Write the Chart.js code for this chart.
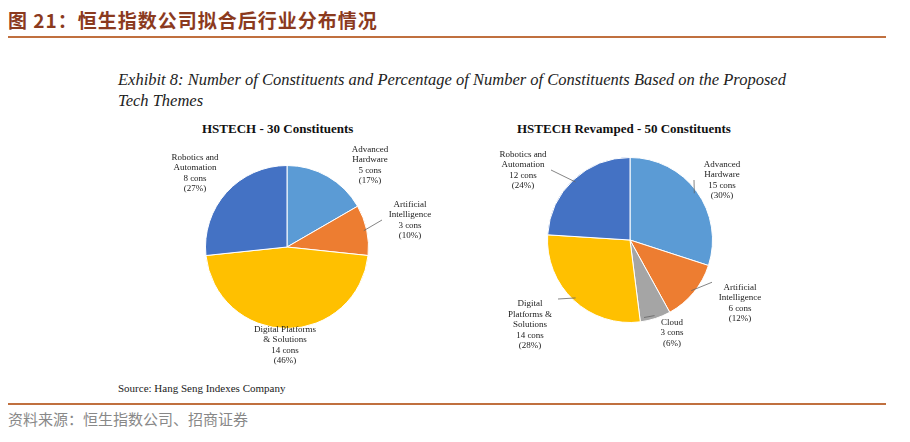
<!DOCTYPE html>
<html><head><meta charset="utf-8">
<script src="https://cdn.jsdelivr.net/npm/chart.js@4"></script>
<style>
body{margin:0;width:910px;height:442px;background:#fff;position:relative;overflow:hidden;font-family:"Liberation Serif",serif}
.abs{position:absolute}
#head{left:8px;top:6px;font:bold 19px "Noto Sans CJK SC";color:#8b3a1e;letter-spacing:1px}
.rule{left:8px;width:878px;height:2px;background:#c0703f}
#ex{left:118px;top:69px;font:italic 16.5px "Liberation Serif";color:#222;line-height:21px}
.ct{font:bold 13px "Liberation Serif";color:#111}
#src{left:118px;top:382px;font:11px "Liberation Serif";color:#222}
#foot{left:8px;top:408px;font:15px "Noto Sans CJK SC";color:#888}
</style></head><body>
<div class="abs" id="head">图 21：恒生指数公司拟合后行业分布情况</div>
<div class="abs rule" style="top:36px"></div>
<div class="abs" id="ex">Exhibit 8: Number of Constituents and Percentage of Number of Constituents Based on the Proposed<br>Tech Themes</div>
<div class="abs ct" style="left:202px;top:121px">HSTECH - 30 Constituents</div>
<div class="abs ct" style="left:517px;top:121px">HSTECH Revamped - 50 Constituents</div>
<canvas id="c1" class="abs" style="left:107px;top:135px" width="360" height="240"></canvas>
<canvas id="c2" class="abs" style="left:450px;top:125px" width="360" height="230"></canvas>
<div class="abs" id="src">Source: Hang Seng Indexes Company</div>
<div class="abs rule" style="top:403px"></div>
<div class="abs" id="foot">资料来源：恒生指数公司、招商证券</div>
<script>
const labels1 = [['Advanced','Hardware'],['Artificial','Intelligence'],['Digital Platforms','& Solutions'],['Robotics and','Automation']];
const values1 = [5, 3, 14, 8];
const pct1 = ['17%','10%','46%','27%'];
const colors1 = ['#5b9bd5','#ed7d31','#ffc000','#4472c4'];

const labels2 = [['Advanced','Hardware'],['Artificial','Intelligence'],['Cloud'],['Digital','Platforms &','Solutions'],['Robotics and','Automation']];
const values2 = [15, 6, 3, 14, 12];
const pct2 = ['30%','12%','6%','28%','24%'];
const colors2 = ['#5b9bd5','#ed7d31','#a5a5a5','#ffc000','#4472c4'];

// label placement relative to pie centre, and whether a leader line is drawn
const place1 = [[83,-82,false],[123,-27,true],[-2,98,false],[-92,-74,false]];
const place2 = [[92,-60,true],[110,63,true],[42,93,true],[-100,85,true],[-107,-70,true]];

const labelPlugin = {
  id: 'outLabels',
  afterDraw(chart, args, opts) {
    const ctx = chart.ctx;
    const meta = chart.getDatasetMeta(0);
    ctx.save();
    ctx.font = '9px "Liberation Serif"';
    ctx.fillStyle = '#222';
    ctx.textAlign = 'center';
    ctx.textBaseline = 'middle';
    meta.data.forEach((arc, i) => {
      const [dx, dy, line] = opts.place[i];
      const lines = [...opts.names[i], opts.values[i] + ' cons', '(' + opts.pct[i] + ')'];
      const cx = arc.x + dx, cy = arc.y + dy;
      const lh = 10.5, top = cy - (lines.length - 1) * lh / 2;
      lines.forEach((t, k) => ctx.fillText(t, cx, top + k * lh));
      if (line) {
        const mid = (arc.startAngle + arc.endAngle) / 2;
        const r = arc.outerRadius;
        const ex = arc.x + Math.cos(mid) * (r - 3), ey = arc.y + Math.sin(mid) * (r - 3);
        const w = 28;
        const lx = cx + (dx > 0 ? -w : w), ly = dy > 0 ? top - 5 : top + (lines.length - 1) * lh / 2;
        ctx.strokeStyle = '#666'; ctx.lineWidth = 0.8;
        ctx.beginPath(); ctx.moveTo(ex, ey); ctx.lineTo(lx, ly); ctx.stroke();
      }
    });
    ctx.restore();
  }
};

function makePie(id, names, values, pct, colors, place, pad) {
  new Chart(document.getElementById(id), {
    type: 'pie',
    data: { labels: names.map(n => n.join(' ')), datasets: [{ data: values, backgroundColor: colors, borderColor: '#fff', borderWidth: 1 }] },
    options: {
      responsive: false, animation: false,
      layout: { padding: pad },
      plugins: { legend: { display: false }, tooltip: { enabled: false },
        outLabels: { names, values, pct, place } }
    },
    plugins: [labelPlugin]
  });
}
makePie('c1', labels1, values1, pct1, colors1, place1, {top:30,bottom:46,left:98,right:98});
makePie('c2', labels2, values2, pct2, colors2, place2, {top:32,bottom:32,left:97,right:97});
</script>
</body></html>
